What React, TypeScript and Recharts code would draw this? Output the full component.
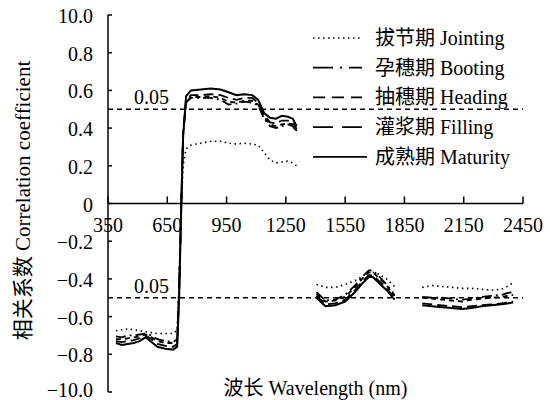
import React from 'react';
import { LineChart, Line, XAxis, YAxis, ReferenceLine, Legend } from 'recharts';

// ---------- data ----------
const wavelengths = [390,420,450,480,510,540,570,600,640,680,700,710,720,730,745,770,820,870,920,960,1000,1040,1080,1110,1140,1170,1200,1230,1260,1285,1305,1350,1405,1450,1500,1550,1600,1640,1670,1690,1720,1760,1800,1875,1940,1990,2040,2090,2140,2190,2240,2290,2340,2370,2400];

const jointing = [
  -0.675,-0.67,-0.665,-0.67,-0.675,-0.68,-0.685,-0.69,-0.69,-0.69,
  -0.67,-0.42,-0.05,0.2,0.29,
  0.31,0.32,0.33,0.33,0.32,
  0.315,0.32,0.315,0.31,0.27,
  0.23,0.215,0.22,0.225,0.215,
  0.2,null,
  -0.43,-0.445,-0.445,-0.43,-0.41,
  -0.385,-0.365,-0.365,-0.375,-0.4,
  -0.44,null,
  -0.445,-0.435,-0.44,-0.445,-0.45,
  -0.45,-0.455,-0.46,-0.455,-0.44,
  -0.42];

const booting = [
  -0.705,-0.71,-0.7,-0.7,-0.695,-0.69,-0.7,-0.72,-0.73,-0.735,
  -0.72,-0.45,-0.04,0.36,0.535,
  0.56,0.56,0.56,0.55,0.525,
  0.53,0.54,0.535,0.52,0.45,
  0.41,0.4,0.41,0.42,0.41,
  0.38,null,
  -0.47,-0.515,-0.51,-0.485,-0.435,
  -0.385,-0.355,-0.355,-0.385,-0.43,
  -0.485,null,
  -0.495,-0.5,-0.5,-0.505,-0.51,
  -0.505,-0.495,-0.49,-0.485,-0.475,
  -0.47];

const heading = [
  -0.72,-0.72,-0.715,-0.71,-0.705,-0.695,-0.71,-0.73,-0.74,-0.74,
  -0.73,-0.46,-0.03,0.37,0.54,
  0.565,0.565,0.57,0.56,0.54,
  0.535,0.545,0.545,0.525,0.46,
  0.42,0.41,0.42,0.425,0.42,
  0.385,null,
  -0.48,-0.52,-0.515,-0.495,-0.445,
  -0.395,-0.365,-0.365,-0.395,-0.435,
  -0.49,null,
  -0.5,-0.505,-0.51,-0.515,-0.52,
  -0.51,-0.505,-0.5,-0.495,-0.49,
  -0.485];

const filling = [
  -0.73,-0.735,-0.73,-0.725,-0.715,-0.7,-0.72,-0.745,-0.755,-0.76,
  -0.745,-0.47,-0.02,0.38,0.55,
  0.575,0.575,0.58,0.575,0.56,
  0.55,0.56,0.56,0.535,0.47,
  0.43,0.425,0.44,0.44,0.43,
  0.395,null,
  -0.49,-0.535,-0.53,-0.51,-0.46,
  -0.41,-0.38,-0.38,-0.41,-0.45,
  -0.5,null,
  -0.53,-0.535,-0.54,-0.545,-0.55,
  -0.545,-0.54,-0.535,-0.53,-0.525,
  -0.52];

const maturity = [
  -0.74,-0.75,-0.745,-0.74,-0.73,-0.71,-0.735,-0.76,-0.77,-0.775,
  -0.76,-0.5,-0.05,0.35,0.57,
  0.6,0.605,0.61,0.605,0.59,
  0.575,0.58,0.575,0.55,0.48,
  0.455,0.45,0.465,0.46,0.45,
  0.41,null,
  -0.5,-0.545,-0.54,-0.52,-0.47,
  -0.42,-0.39,-0.39,-0.42,-0.46,
  -0.51,null,
  -0.54,-0.545,-0.55,-0.555,-0.56,
  -0.555,-0.545,-0.54,-0.535,-0.53,
  -0.525];

const xTicks = [350, 650, 950, 1250, 1550, 1850, 2150, 2450];
const yTicks = [-1, -0.8, -0.6, -0.4, -0.2, 0, 0.2, 0.4, 0.6, 0.8, 1];
const yTickLabels = ['\u221210.0', '\u22120.8', '\u22120.6', '\u22120.4', '\u22120.2', '0', '0.2', '0.4', '0.6', '0.8', '10.0'];
const thresholds = [0.5, -0.5];
const thresholdLabel = '0.05';

const seriesNames = ['拔节期 Jointing', '孕穗期 Booting', '抽穗期 Heading', '灌浆期 Filling', '成熟期 Maturity'];
const seriesKeys = ['jointing', 'booting', 'heading', 'filling', 'maturity'];
const seriesValues = [jointing, booting, heading, filling, maturity];

const data = wavelengths.map((wl, i) => {
  const row: any = { wl };
  seriesKeys.forEach((k, j) => { row[k] = seriesValues[j][i]; });
  return row;
});

// ---------- styles ----------
const FONT = "'Liberation Serif', 'Times New Roman', 'Noto Sans CJK SC', serif";
const FS = 20;
const W = 550, H = 400;
const MARGIN = { top: 15, right: 27, bottom: 0, left: 0 };
const Y_AXIS_W = 108;
const X_AXIS_H = 8;
const Y_MIN = -1, Y_MAX = 1;
const PLOT_TOP = MARGIN.top;
const PLOT_BOTTOM = H - MARGIN.bottom - X_AXIS_H;
const ZERO_Y = PLOT_TOP + (PLOT_BOTTOM - PLOT_TOP) * (Y_MAX - 0) / (Y_MAX - Y_MIN);

const seriesStyles = [
  { dash: '1.5 3.5', width: 1.6 },
  { dash: '10 4 2 4', width: 1.8 },
  { dash: '5 4', width: 1.8 },
  { dash: '10 5', width: 1.8 },
  { dash: undefined, width: 2 },
];
const legendDash = ['1.5 3.5', '20 7 2 7 13 200', '12 7', '20 9', undefined];
const legendLen = [49, 49, 49, 49, 54];

const XTick = (props: any) => {
  const { x, payload } = props;
  return (
    <g>
      <line x1={x} x2={x} y1={ZERO_Y - 7} y2={ZERO_Y} stroke="#000" strokeWidth={1.5} />
      <text x={x} y={ZERO_Y + 28.5} textAnchor="middle" fontFamily={FONT} fontSize={FS} fill="#000">
        {payload.value}
      </text>
    </g>
  );
};

const YTick = (props: any) => {
  const { x, y, payload } = props;
  const idx = yTicks.findIndex((t) => Math.abs(t - payload.value) < 1e-9);
  return (
    <g>
      <line x1={x + 15} x2={x + 19} y1={y} y2={y} stroke="#000" strokeWidth={1.5} />
      <text x={x} y={Math.min(y + 8, H - 3)} textAnchor="end" fontFamily={FONT} fontSize={FS} fill="#000">
        {idx >= 0 ? yTickLabels[idx] : payload.value}
      </text>
    </g>
  );
};

const ThresholdLabel = (props: any) => {
  const { viewBox } = props;
  return (
    <text x={viewBox.x + 26} y={viewBox.y - 5} fontFamily={FONT} fontSize={FS} fill="#000">
      {thresholdLabel}
    </text>
  );
};

const YLabel = (props: any) => {
  const { viewBox } = props;
  const cx = viewBox.x + 23;
  const cy = viewBox.y + viewBox.height / 2 - 3;
  return (
    <text x={cx} y={cy} transform={`rotate(-90 ${cx} ${cy})`} textAnchor="middle" dominantBaseline="central"
      fontFamily={FONT} fontSize={21} fill="#000">
      相关系数 Correlation coefficient
    </text>
  );
};

const XLabel = (props: any) => {
  const { viewBox } = props;
  return (
    <text x={viewBox.x + viewBox.width / 2} y={viewBox.y + 3} textAnchor="middle"
      fontFamily={FONT} fontSize={FS} fill="#000">
      波长 Wavelength (nm)
    </text>
  );
};

const LegendContent = () => (
  <svg width={230} height={150} style={{ display: 'block', overflow: 'visible' }}>
    {seriesNames.map((name, i) => {
      const cy = 15 + i * 29.7;
      return (
        <g key={name}>
          <line x1={0} x2={legendLen[i]} y1={cy} y2={cy} stroke="#000" strokeWidth={i === 0 ? 1.5 : 1.8}
            strokeDasharray={legendDash[i]} />
          <text x={62} y={cy + 7} fontFamily={FONT} fontSize={FS} fill="#000">{name}</text>
        </g>
      );
    })}
  </svg>
);

export default function App() {
  return (
    <div style={{ position: 'absolute', left: 0, top: 0, width: W, height: H, background: '#fff' }}>
      <LineChart width={W} height={H} data={data} margin={MARGIN}>
        <XAxis dataKey="wl" type="number" domain={[350, 2450]} ticks={xTicks} interval={0}
          height={X_AXIS_H} axisLine={false} tickLine={false} tick={XTick} label={{ content: XLabel }} />
        <YAxis type="number" domain={[Y_MIN, Y_MAX]} ticks={yTicks} interval={0} width={Y_AXIS_W}
          tickSize={0} tickMargin={15} tickLine={false} tick={YTick}
          axisLine={{ stroke: '#000', strokeWidth: 1.5 }} label={{ content: YLabel }} />
        <ReferenceLine y={0} stroke="#000" strokeWidth={1.5} />
        {thresholds.map((t) => (
          <ReferenceLine key={t} y={t} stroke="#000" strokeWidth={1.5} strokeDasharray="5 4"
            label={{ content: ThresholdLabel }} />
        ))}
        {seriesKeys.map((k, i) => (
          <Line key={k} dataKey={k} name={seriesNames[i]} type="linear" stroke="#000"
            strokeWidth={seriesStyles[i].width} strokeDasharray={seriesStyles[i].dash}
            dot={false} activeDot={false} isAnimationActive={false} connectNulls={false} />
        ))}
        <Legend layout="vertical" align="center" verticalAlign="middle" content={LegendContent}
          wrapperStyle={{ position: 'absolute', left: 313, top: 23, width: 230, height: 150 }} />
      </LineChart>
    </div>
  );
}
